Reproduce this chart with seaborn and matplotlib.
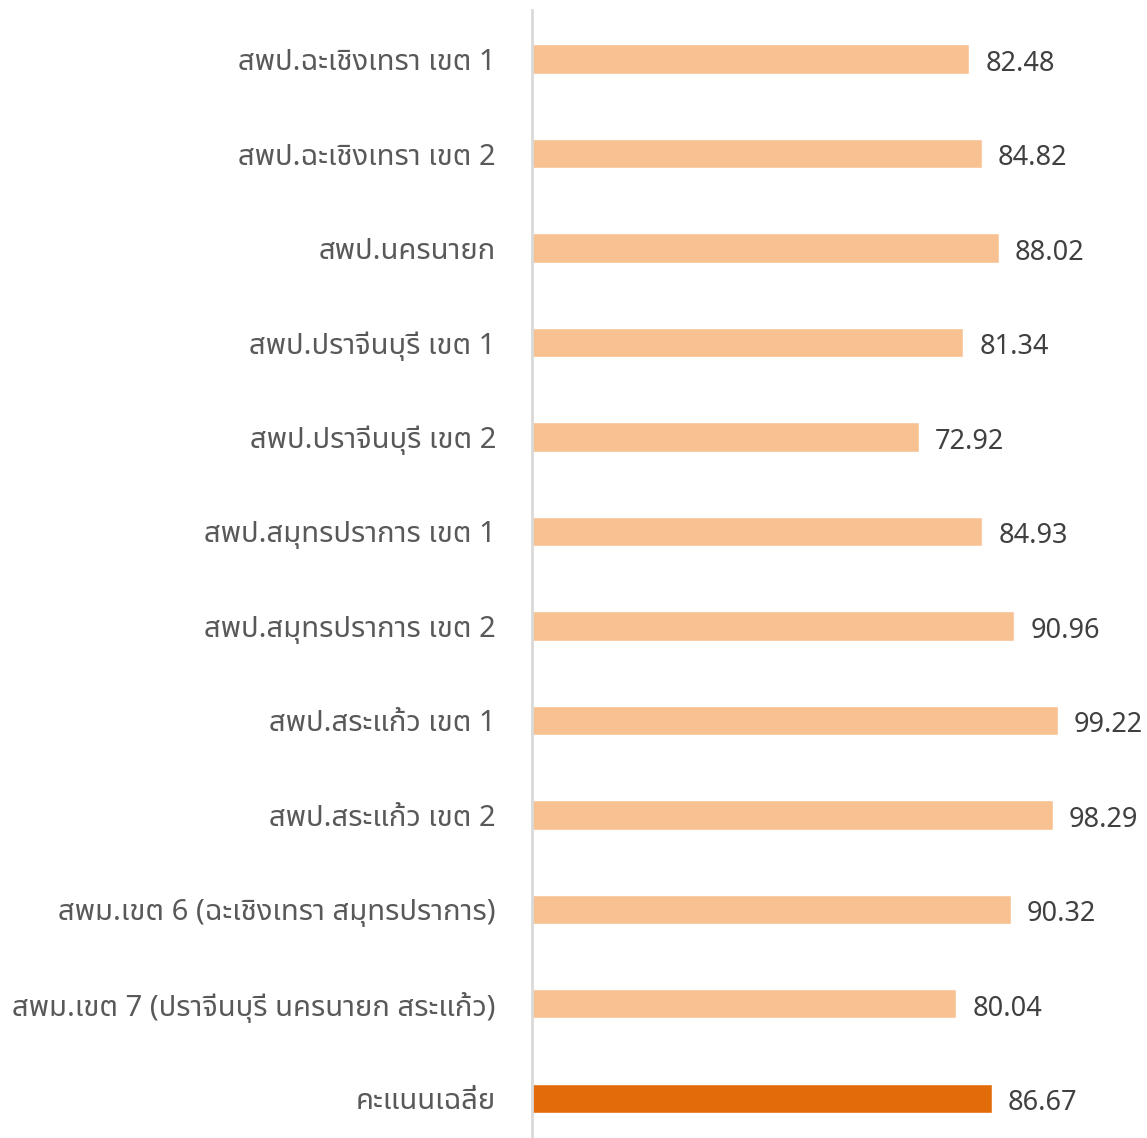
import matplotlib
matplotlib.use("Agg")
import matplotlib.pyplot as plt
import seaborn as sns
import pandas as pd
from matplotlib import font_manager

# ========== DATA ==========
areas = [
    "สพป.ฉะเชิงเทรา เขต 1",
    "สพป.ฉะเชิงเทรา เขต 2",
    "สพป.นครนายก",
    "สพป.ปราจีนบุรี เขต 1",
    "สพป.ปราจีนบุรี เขต 2",
    "สพป.สมุทรปราการ เขต 1",
    "สพป.สมุทรปราการ เขต 2",
    "สพป.สระแก้ว เขต 1",
    "สพป.สระแก้ว เขต 2",
    "สพม.เขต 6 (ฉะเชิงเทรา สมุทรปราการ)",
    "สพม.เขต 7 (ปราจีนบุรี นครนายก สระแก้ว)",
    "คะแนนเฉลี่ย",
]
scores = [82.48, 84.82, 88.02, 81.34, 72.92, 84.93, 90.96, 99.22, 98.29, 90.32, 80.04, 86.67]
is_avg = [False] * 11 + [True]

LIGHT = "#F8C192"
DARK = "#E36C0A"
TEXT = "#595959"

df = pd.DataFrame({"area": areas, "score": scores, "avg": is_avg})

# ========== FONT ==========
sns.set_style("white")
installed = {f.name for f in font_manager.fontManager.ttflist}
thai = [n for n in ["Noto Sans Thai", "Noto Sans Thai UI", "Loma", "Garuda", "Norasi",
                    "Tlwg Typo", "Sarabun", "TH Sarabun New", "Tahoma", "Leelawadee UI"]
        if n in installed]
plt.rcParams["font.family"] = thai + ["DejaVu Sans"]

# ========== PLOT ==========
fig = plt.figure(figsize=(11.47, 11.38), dpi=100)
ax = fig.add_axes([532 / 1147, 0, 1 - 532 / 1147, 1 - 10 / 1138])

sns.barplot(data=df, y="area", x="score", hue="avg", palette={False: LIGHT, True: DARK},
            orient="h", width=0.31, saturation=1, legend=False, ax=ax)

for i, v in enumerate(scores):
    ax.text(v + 3, i + 0.05, f"{v:.2f}", va="center", ha="left", fontsize=19.5, color="#404040")

ax.set_xlim(0, 116)
ax.set_ylim(11.42, -0.52)
ax.set_xticks([])
ax.set_xlabel("")
ax.set_ylabel("")
ax.tick_params(axis="y", length=0, pad=26, labelsize=21, labelcolor=TEXT)
for s in ["top", "right", "bottom"]:
    ax.spines[s].set_visible(False)
ax.spines["left"].set_color("#D9D9D9")
ax.spines["left"].set_linewidth(2)

fig.savefig("out.png", dpi=100)
